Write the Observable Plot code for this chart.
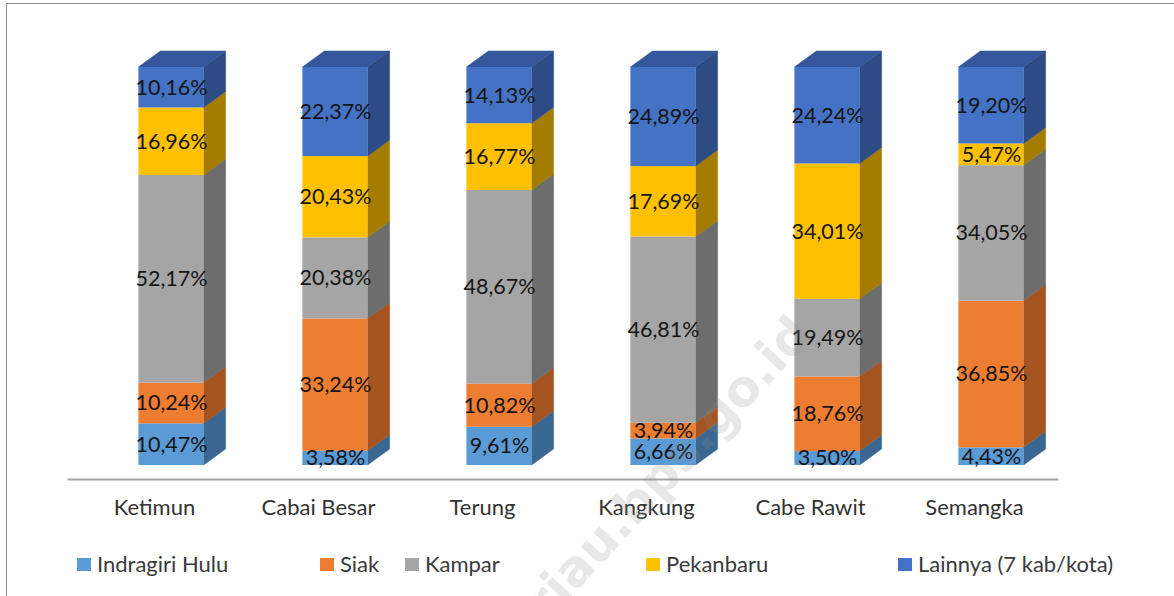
<!DOCTYPE html>
<html>
<head>
<meta charset="utf-8">
<script src="https://cdn.jsdelivr.net/npm/d3@7"></script>
<script src="https://cdn.jsdelivr.net/npm/@observablehq/plot@0.6"></script>
<style>
  html, body { margin: 0; padding: 0; background: #fff; }
  #wrap { position: relative; width: 1174px; height: 596px; overflow: hidden; font-family: Lato, "Open Sans", sans-serif; }
  #frame { position: absolute; left: 6px; top: 3px; width: 1200px; height: 700px; border: 1.5px solid #8e8e8e; box-sizing: border-box; }
  #chart { position: absolute; left: 0; top: 0; }
  .leg { position: absolute; top: 551px; font-size: 22px; color: #3a3a3a; white-space: nowrap; line-height: 26px; }
  .leg i { position: absolute; left: -20px; top: 7px; width: 14px; height: 13px; }
  #wm { position: absolute; left: 668px; top: 468px; transform: translate(-50%, -50%) rotate(-47deg); font: bold 50px "DejaVu Sans", sans-serif; color: rgba(140,140,140,0.2); white-space: nowrap; pointer-events: none; }
</style>
</head>
<body>
<div id="wrap">
  <div id="frame"></div>
  <div id="chart"></div>
  <div id="legend"></div>
  <div id="wm">riau.bps.go.id</div>
</div>
<script>
// ---- data ----
const categories = ["Ketimun", "Cabai Besar", "Terung", "Kangkung", "Cabe Rawit", "Semangka"];
const seriesNames = ["Indragiri Hulu", "Siak", "Kampar", "Pekanbaru", "Lainnya (7 kab/kota)"];
const indragiriHulu = [10.47, 3.58, 9.61, 6.66, 3.50, 4.43];
const siak          = [10.24, 33.24, 10.82, 3.94, 18.76, 36.85];
const kampar        = [52.17, 20.38, 48.67, 46.81, 19.49, 34.05];
const pekanbaru     = [16.96, 20.43, 16.77, 17.69, 34.01, 5.47];
const lainnya       = [10.16, 22.37, 14.13, 24.89, 24.24, 19.20];

// ---- styles ----
const frontColors = ["#5B9BD5", "#ED7D31", "#A5A5A5", "#FFC000", "#4472C4"];
const sideColors  = ["#3B6893", "#A5531F", "#6D6D6D", "#A47C00", "#2D4B84"];
const topColor = "#33579A";
const legendLeft = [97, 340, 425, 666, 918];

const seriesValues = [indragiriHulu, siak, kampar, pekanbaru, lainnya];
const rows = [];
seriesValues.forEach((vals, s) => {
  vals.forEach((v, c) => rows.push({cat: categories[c], series: seriesNames[s], si: s, value: v}));
});

const fmt = v => v.toFixed(2).replace(".", ",") + "%";
const INSET = 49.4, DX = 22, DY = -16;

const plot = Plot.plot({
  width: 1174,
  height: 530,
  marginTop: 67,
  marginBottom: 65,
  marginLeft: 86.6,
  marginRight: 98.6,
  style: {fontFamily: 'Lato, "Open Sans", sans-serif', background: "transparent", overflow: "visible"},
  x: {domain: categories, padding: 0, axis: null},
  y: {domain: [0, 100], axis: null},
  color: {domain: seriesNames, range: frontColors},
  marks: [
    Plot.ruleY([0], {dy: 14, dx: -17, insetLeft: -2, stroke: "#a3a3a3", strokeWidth: 2}),
    Plot.barY(rows, {
      x: "cat", y: "value", z: "series", fill: "series",
      insetLeft: INSET, insetRight: INSET,
      render(index, scales, values, dimensions, context, next) {
        const g = next(index, scales, values, dimensions, context);
        const bw = scales.x && scales.x.bandwidth ? scales.x.bandwidth() : 164.8;
        const wrap = d3.create("svg:g");
        for (const i of index) {
          const xl = values.x[i] + INSET, xr = values.x[i] + bw - INSET;
          const yt = Math.min(values.y1[i], values.y2[i]);
          const yb = Math.max(values.y1[i], values.y2[i]);
          const s = rows[i].si;
          wrap.append("polygon")
            .attr("points", [[xr, yb], [xr, yt], [xr + DX, yt + DY], [xr + DX, yb + DY]].map(p => p.join(",")).join(" "))
            .attr("fill", sideColors[s]).attr("stroke", sideColors[s]).attr("stroke-width", 0.5);
          if (s === seriesNames.length - 1) {
            wrap.append("polygon")
              .attr("points", [[xl, yt], [xr, yt], [xr + DX, yt + DY], [xl + DX, yt + DY]].map(p => p.join(",")).join(" "))
              .attr("fill", topColor).attr("stroke", topColor).attr("stroke-width", 0.5);
          }
        }
        wrap.node().appendChild(g);
        return wrap.node();
      }
    }),
    Plot.text(rows, Plot.stackY({
      x: "cat", y: "value", z: "series",
      text: d => fmt(d.value),
      fontSize: 21.5, fill: "#151515"
    })),
    Plot.axisX({tickSize: 0, tickPadding: 34, fontSize: 22, dx: -17, fill: "#333", label: null})
  ]
});
document.getElementById("chart").appendChild(plot);

// legend
const legend = document.getElementById("legend");
seriesNames.forEach((name, s) => {
  const d = document.createElement("div");
  d.className = "leg";
  d.style.left = legendLeft[s] + "px";
  d.innerHTML = `<i style="background:${frontColors[s]}"></i>${name}`;
  legend.appendChild(d);
});
</script>
</body>
</html>
